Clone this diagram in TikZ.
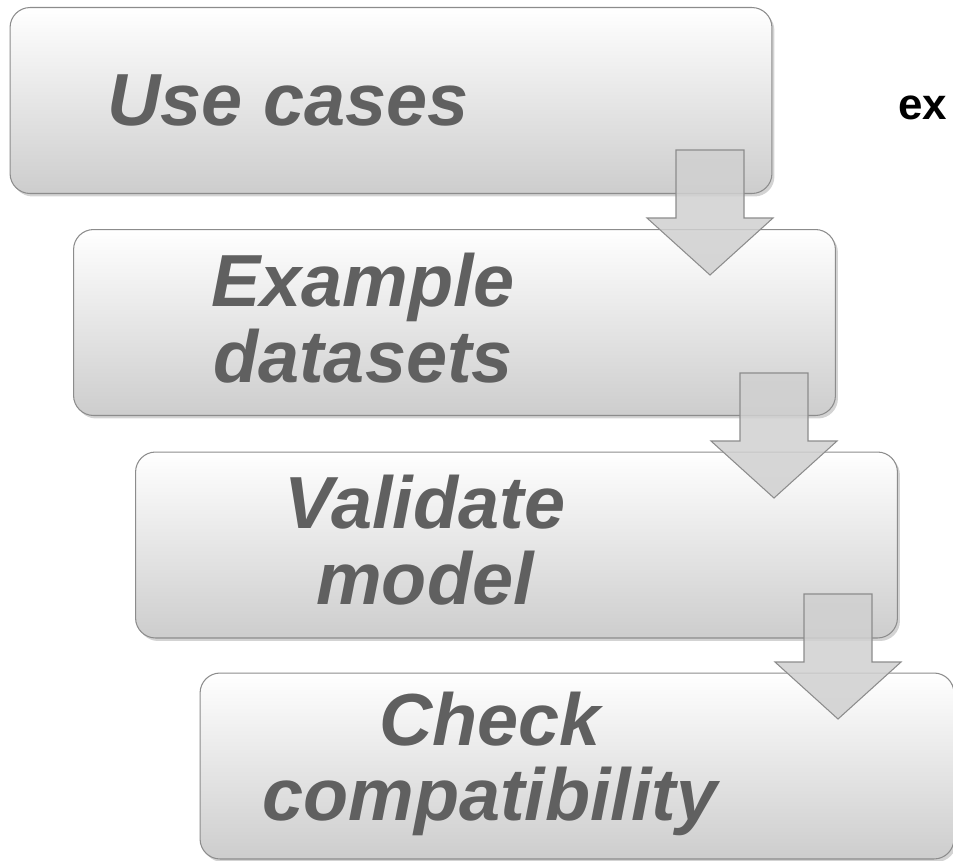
\documentclass[tikz,border=0pt]{standalone}
\usepackage{fontspec}
\setsansfont{Liberation Sans}
\usetikzlibrary{shadows}
\definecolor{txtgray}{HTML}{606060}
\definecolor{boxgray}{HTML}{CDCDCD}
\definecolor{edgegray}{HTML}{8C8C8C}
\definecolor{arrgray}{HTML}{D0D0D0}
\tikzstyle{stage} = [rectangle, rounded corners=0.4cm, minimum width=15.24cm, minimum height=3.72cm, top color=white, middle color=white!94!black, bottom color=boxgray, draw=edgegray, line width=0.6pt, drop shadow={opacity=0.35, shadow xshift=0.05cm, shadow yshift=-0.06cm}]
\tikzstyle{stagetext} = [text=txtgray, align=center, font=\sffamily\bfseries\itshape\fontsize{42}{43}\selectfont]
\tikzstyle{downarrow} = [left color=arrgray, middle color=white!90!black, right color=arrgray, fill opacity=0.85, draw=edgegray, line width=0.6pt, line join=miter]
\begin{document}
\begin{tikzpicture}[x=0.02cm, y=-0.02cm]
        \useasboundingbox (0,0) rectangle (953,860);
        \clip (0,0) rectangle (953,860);
        % the four stages
        \node (b1) [stage] at (391,100.5) {};
        \node (b2) [stage] at (454.5,322.5) {};
        \node (b3) [stage] at (516.5,545) {};
        \node (b4) [stage, minimum width=15.08cm] at (577,766) {};
        % block arrows between the stages
        \coordinate (a1) at (710,150);
        \coordinate (a2) at (774,373);
        \coordinate (a3) at (838,594);
        \draw [downarrow] (a1) ++(-34,0) -- ++(68,0) -- ++(0,68) -- ++(29,0) -- ++(-63,57) -- ++(-63,-57) -- ++(29,0) -- cycle;
        \draw [downarrow] (a2) ++(-34,0) -- ++(68,0) -- ++(0,68) -- ++(29,0) -- ++(-63,57) -- ++(-63,-57) -- ++(29,0) -- cycle;
        \draw [downarrow] (a3) ++(-34,0) -- ++(68,0) -- ++(0,68) -- ++(29,0) -- ++(-63,57) -- ++(-63,-57) -- ++(29,0) -- cycle;
        % labels
        \node (t1) [stagetext] at (288,100) {Use cases};
        \node (t2) [stagetext] at (363,318) {Example\\datasets};
        \node (t3) [stagetext] at (425,540) {Validate\\model};
        \node (t4) [stagetext] at (490,764) {Check\\compatibility};
        \node (side) [anchor=base west, inner sep=0pt, font=\sffamily\bfseries\fontsize{25}{30}\selectfont] at (898,119) {ex};
\end{tikzpicture}
\end{document}
